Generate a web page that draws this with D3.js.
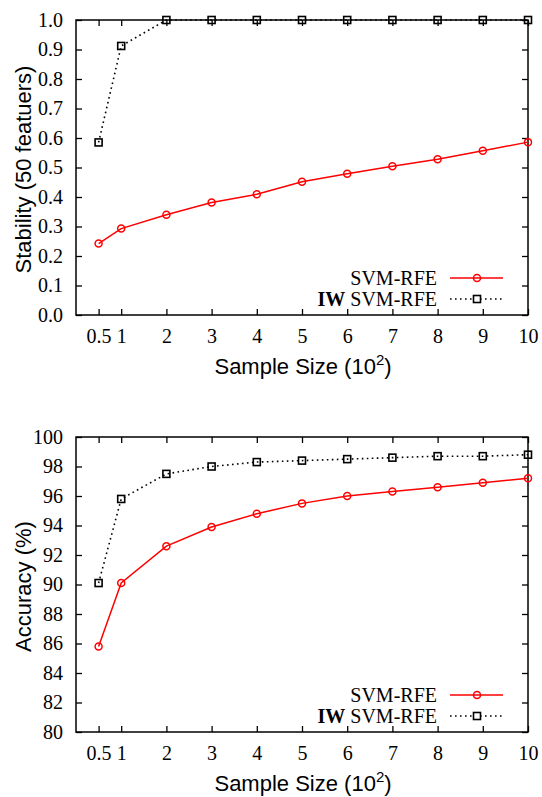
<!DOCTYPE html>
<html>
<head>
<meta charset="utf-8">
<script src="https://cdn.jsdelivr.net/npm/d3@7"></script>
<style>
  html, body { margin: 0; padding: 0; background: #fff; }
  svg { display: block; }
</style>
</head>
<body>
<svg id="chart" width="542" height="797"></svg>
<script>
// Sample sizes (x 10^2)
const sampleSizes = [0.5, 1, 2, 3, 4, 5, 6, 7, 8, 9, 10];
const xTickLabels = ["0.5", "1", "2", "3", "4", "5", "6", "7", "8", "9", "10"];

// Stability of the selected 50 features
const stabilitySvm = [0.242, 0.293, 0.340, 0.381, 0.409, 0.452, 0.479, 0.504, 0.528, 0.557, 0.586];
const stabilityIw  = [0.585, 0.912, 1.0, 1.0, 1.0, 1.0, 1.0, 1.0, 1.0, 1.0, 1.0];
const stabilityTicks = [0.0, 0.1, 0.2, 0.3, 0.4, 0.5, 0.6, 0.7, 0.8, 0.9, 1.0];

// Classification accuracy (%)
const accuracySvm = [85.8, 90.1, 92.6, 93.9, 94.8, 95.5, 96.0, 96.3, 96.6, 96.9, 97.2];
const accuracyIw  = [90.1, 95.8, 97.5, 98.0, 98.3, 98.4, 98.5, 98.6, 98.7, 98.7, 98.8];
const accuracyTicks = [80, 82, 84, 86, 88, 90, 92, 94, 96, 98, 100];

const svg = d3.select("#chart");
const serif = "'Liberation Serif', 'Times New Roman', serif";
const sans = "'Liberation Sans', Arial, sans-serif";
const red = "#ff0000";

function panel(opts) {
  const { top, bottom, left, right, yDomain, yTicks, yFmt, svmVals, iwVals, yTitle, legendY } = opts;
  const g = svg.append("g");
  const x = d3.scaleLinear().domain([0, 10]).range([left, right]);
  const y = d3.scaleLinear().domain(yDomain).range([bottom, top]);
  const tickLen = 6;

  // axes with inward ticks on all four sides
  const axLeft = d3.axisLeft(y).tickValues(yTicks).tickSize(-tickLen).tickPadding(13).tickFormat(yFmt);
  const axRight = d3.axisRight(y).tickValues(yTicks).tickSize(-tickLen).tickFormat("");
  const axBottom = d3.axisBottom(x).tickValues(sampleSizes).tickSize(-tickLen).tickPadding(14)
    .tickFormat((d, i) => xTickLabels[i]);
  const axTop = d3.axisTop(x).tickValues(sampleSizes).tickSize(-tickLen).tickFormat("");

  const styleAxis = sel => {
    sel.attr("font-family", serif).attr("font-size", 20);
    sel.select(".domain").remove();
    sel.selectAll(".tick line").attr("stroke", "#000").attr("stroke-width", 1.3);
    sel.selectAll(".tick text").attr("fill", "#000")
      .attr("font-family", serif).style("font-family", serif).style("font-size", "20px");
  };
  g.append("g").attr("transform", `translate(${left},0)`).call(axLeft).call(styleAxis);
  g.append("g").attr("transform", `translate(${right},0)`).call(axRight).call(styleAxis);
  g.append("g").attr("transform", `translate(0,${bottom})`).call(axBottom).call(styleAxis);
  g.append("g").attr("transform", `translate(0,${top})`).call(axTop).call(styleAxis);

  // frame
  g.append("rect").attr("x", left).attr("y", top).attr("width", right - left).attr("height", bottom - top)
    .attr("fill", "none").attr("stroke", "#000").attr("stroke-width", 1.5);

  const line = d3.line().x((d, i) => x(sampleSizes[i])).y(d => y(d));

  // SVM-RFE series
  g.append("path").datum(svmVals).attr("d", line).attr("fill", "none")
    .attr("stroke", red).attr("stroke-width", 1.5);
  g.selectAll(".svm-pt").data(svmVals).enter().append("circle")
    .attr("cx", (d, i) => x(sampleSizes[i])).attr("cy", d => y(d)).attr("r", 3.5)
    .attr("fill", "none").attr("stroke", red).attr("stroke-width", 1.5);

  // IW SVM-RFE series
  g.append("path").datum(iwVals).attr("d", line).attr("fill", "none")
    .attr("stroke", "#000").attr("stroke-width", 1.6).attr("stroke-dasharray", "1.6,3.4");
  const sq = 7;
  g.selectAll(".iw-pt").data(iwVals).enter().append("rect")
    .attr("x", (d, i) => x(sampleSizes[i]) - sq / 2).attr("y", d => y(d) - sq / 2)
    .attr("width", sq).attr("height", sq)
    .attr("fill", "none").attr("stroke", "#000").attr("stroke-width", 1.6);

  // axis titles
  const xt = g.append("text").attr("x", (left + right) / 2 + 1).attr("y", bottom + 59)
    .attr("text-anchor", "middle").style("font-family", sans).style("font-size", "22px").attr("fill", "#000");
  xt.append("tspan").text("Sample Size (10");
  xt.append("tspan").attr("dy", -9).style("font-size", "15px").text("2");
  xt.append("tspan").attr("dy", 9).text(")");

  g.append("text")
    .attr("transform", `translate(31,${(top + bottom) / 2 + 2}) rotate(-90)`)
    .attr("text-anchor", "middle").style("font-family", sans).style("font-size", "22px").attr("fill", "#000")
    .text(yTitle);

  // legend
  const lx0 = 450, lx1 = 503, lmx = 477, textRight = 437;
  const r1 = legendY, r2 = legendY + 21;
  g.append("text").attr("x", textRight).attr("y", r1 + 7).attr("text-anchor", "end")
    .style("font-family", serif).style("font-size", "20px").attr("fill", "#000").text("SVM-RFE");
  g.append("line").attr("x1", lx0).attr("x2", lx1).attr("y1", r1).attr("y2", r1)
    .attr("stroke", red).attr("stroke-width", 1.5);
  g.append("circle").attr("cx", lmx).attr("cy", r1).attr("r", 3.5)
    .attr("fill", "none").attr("stroke", red).attr("stroke-width", 1.5);

  const t2 = g.append("text").attr("x", textRight).attr("y", r2 + 7).attr("text-anchor", "end")
    .style("font-family", serif).style("font-size", "20px").attr("fill", "#000");
  t2.append("tspan").style("font-weight", "bold").text("IW");
  t2.append("tspan").text(" SVM-RFE");
  g.append("line").attr("x1", lx0).attr("x2", lx1).attr("y1", r2).attr("y2", r2)
    .attr("stroke", "#000").attr("stroke-width", 1.6).attr("stroke-dasharray", "1.6,3.4");
  g.append("rect").attr("x", lmx - sq / 2).attr("y", r2 - sq / 2).attr("width", sq).attr("height", sq)
    .attr("fill", "#fff").attr("stroke", "#000").attr("stroke-width", 1.6);
}

panel({
  top: 20, bottom: 315, left: 76, right: 528,
  yDomain: [0, 1], yTicks: stabilityTicks, yFmt: d3.format(".1f"),
  svmVals: stabilitySvm, iwVals: stabilityIw,
  yTitle: "Stability (50 featuers)", legendY: 278
});

panel({
  top: 437, bottom: 732, left: 76, right: 528,
  yDomain: [80, 100], yTicks: accuracyTicks, yFmt: d3.format("d"),
  svmVals: accuracySvm, iwVals: accuracyIw,
  yTitle: "Accuracy (%)", legendY: 695
});
</script>
</body>
</html>
